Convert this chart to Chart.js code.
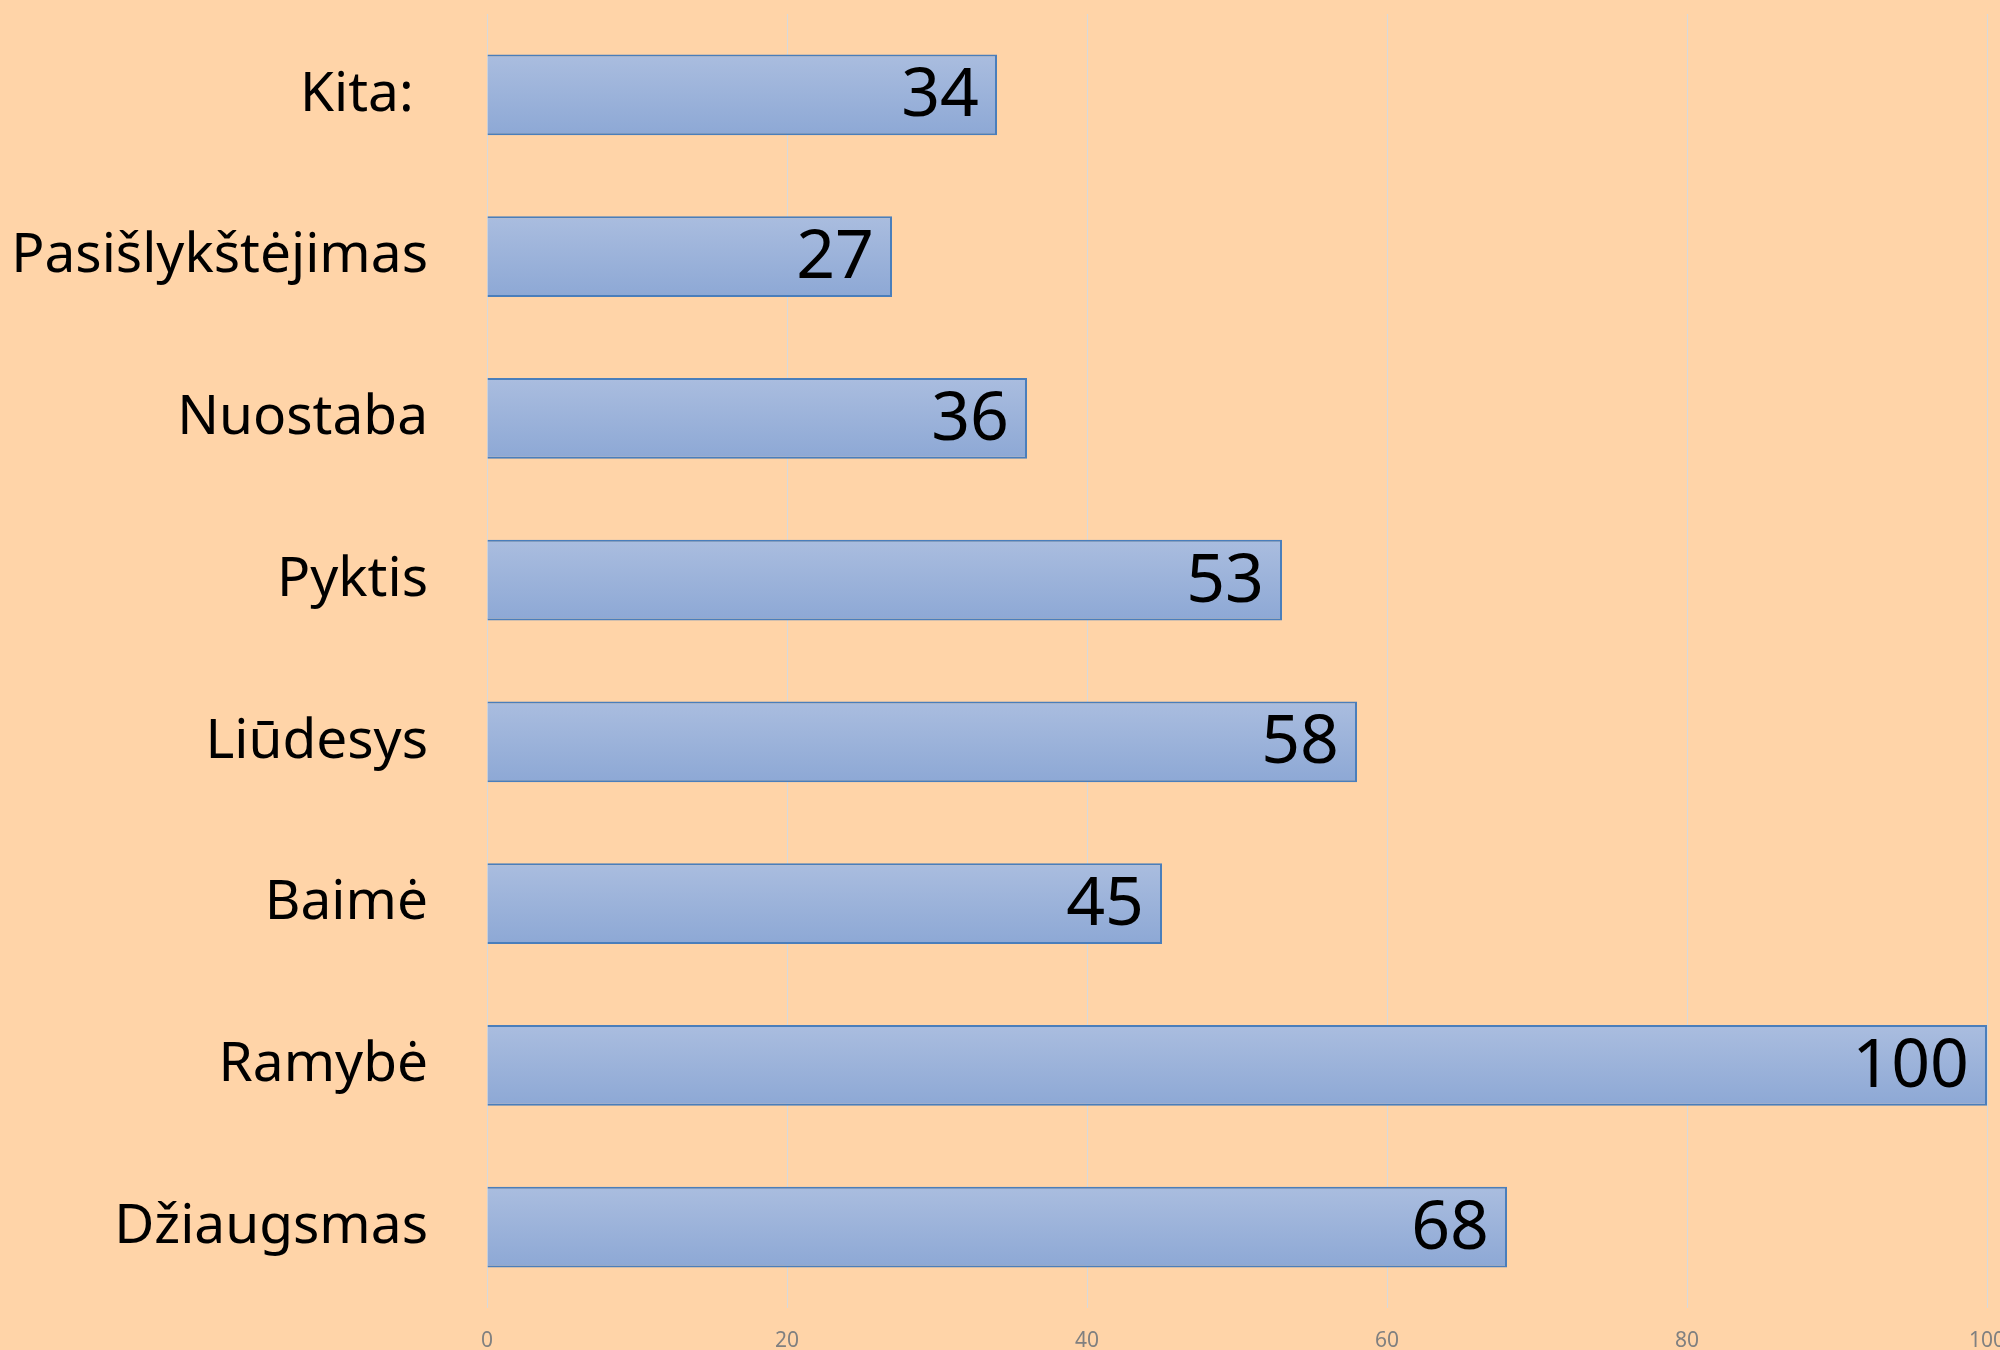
<!DOCTYPE html>
<html>
<head>
<meta charset="utf-8">
<script src="https://cdn.jsdelivr.net/npm/chart.js@4"></script>
<style>
  html, body { margin: 0; padding: 0; background: #FFD4A8; }
  #wrap { width: 2000px; height: 1350px; }
</style>
</head>
<body>
<div id="wrap"><canvas id="myChart" width="2000" height="1350"></canvas></div>
<script>
// emotions, top to bottom
var categories = ["Kita: ", "Pasišlykštėjimas", "Nuostaba", "Pyktis", "Liūdesys", "Baimė", "Ramybė", "Džiaugsmas"];
var values = [34, 27, 36, 53, 58, 45, 100, 68];
var xTicks = [0, 20, 40, 60, 80, 100];

// draws the number inside the right end of each bar
var barLabels = {
  id: "barLabels",
  afterDatasetsDraw: function(chart) {
    var c = chart.ctx;
    var meta = chart.getDatasetMeta(0);
    c.save();
    c.font = "68px 'Noto Sans'";
    c.fillStyle = "#000";
    c.textAlign = "right";
    c.textBaseline = "middle";
    meta.data.forEach(function(bar, i) {
      c.fillText(values[i], bar.x - 18, bar.y + 2);
    });
    c.restore();
  }
};

function barGradient(context) {
  var chart = context.chart;
  var y = chart.scales.y;
  if (!y || y.top === undefined) return "#9BB2DA";
  var yc = y.getPixelForValue(context.dataIndex);
  var half = (y.height / categories.length) * 0.5 / 2;
  var g = chart.ctx.createLinearGradient(0, yc - half, 0, yc + half);
  g.addColorStop(0, "#AABDDF");
  g.addColorStop(1, "#8DA8D5");
  return g;
}

var ctx = document.getElementById("myChart").getContext("2d");
var chart = new Chart(ctx, {
  type: "bar",
  data: {
    labels: categories,
    datasets: [{
      data: values,
      backgroundColor: barGradient,
      borderColor: "#4A7EBB",
      borderWidth: 2,
      borderSkipped: "start",
      categoryPercentage: 0.5,
      barPercentage: 1
    }]
  },
  options: {
    indexAxis: "y",
    responsive: false,
    animation: false,
    layout: { padding: { top: 14, right: 13, left: 0, bottom: 0 } },
    plugins: {
      legend: { display: false },
      tooltip: { enabled: false }
    },
    scales: {
      x: {
        min: 0,
        max: 100,
        afterBuildTicks: function(s) {
          s.ticks = xTicks.map(function(v) { return { value: v }; });
        },
        afterFit: function(s) {
          s.height = 42;
          s.paddingLeft = 0;
          s.paddingRight = 0;
        },
        grid: { color: "#D9D9D9", lineWidth: 1, drawTicks: false },
        border: { display: false },
        ticks: {
          color: "#808080",
          font: { family: "'Liberation Sans Narrow', 'Noto Sans'", size: 21 },
          padding: 20,
          maxRotation: 0
        }
      },
      y: {
        afterFit: function(s) {
          s.width = 487;
          s.paddingTop = 0;
          s.paddingBottom = 0;
        },
        grid: { display: false, drawTicks: false },
        border: { display: false },
        ticks: {
          color: "#000",
          font: { family: "'Noto Sans'", size: 55 },
          padding: 59
        }
      }
    }
  },
  plugins: [barLabels]
});
</script>
</body>
</html>
